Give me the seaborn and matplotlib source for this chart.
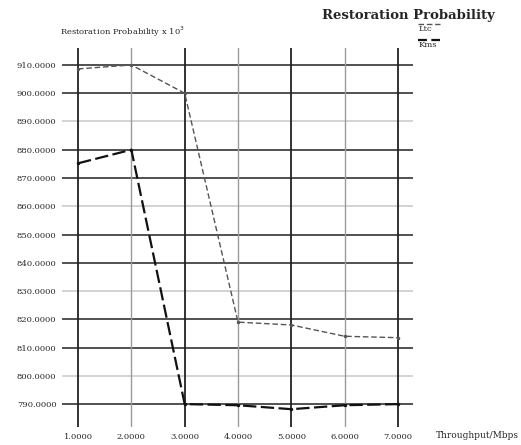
import pandas as pd
import numpy as np
import matplotlib
matplotlib.use("Agg")
import matplotlib.pyplot as plt
import seaborn as sns

# Data
throughput = [1, 2, 3, 4, 5, 6, 7]
ltc = [908.6, 910.0, 900.0, 819.0, 818.0, 814.0, 813.5]
kms = [875.2, 880.0, 790.0, 789.6, 788.2, 789.6, 790.0]
series_names = ["Ltc", "Kms"]
xticks = [1, 2, 3, 4, 5, 6, 7]
yticks = list(range(790, 911, 10))

sns.set_style("white")
plt.rcParams['font.family'] = ['DejaVu Serif', 'DejaVu Sans']

df = pd.DataFrame({
    'x': throughput * 2,
    'y': ltc + kms,
    'series': [series_names[0]] * 7 + [series_names[1]] * 7,
})

fig = plt.figure(figsize=(5.21, 4.45), dpi=100)
ax = fig.add_axes([62 / 521, 1 - 427 / 445, (413 - 62) / 521, (427 - 48) / 445])

# grid, alternating dark / light like the original
for i, yv in enumerate(yticks):
    ax.axhline(yv, color='#222222' if i % 3 != 1 else '#c8c8c8', lw=1.1, zorder=1)
for i, xv in enumerate(xticks):
    ax.axvline(xv, color='#222222' if i % 2 == 0 else '#9a9a9a', lw=1.3 if i % 2 == 0 else 1.0, zorder=1)

sns.lineplot(data=df[df['series'] == 'Ltc'], x='x', y='y', ax=ax, color='#555555',
             lw=1.0, linestyle=(0, (4, 2)), marker='o', markersize=2.5,
             markeredgewidth=0, zorder=3, legend=False)
sns.lineplot(data=df[df['series'] == 'Kms'], x='x', y='y', ax=ax, color='#111111',
             lw=1.6, linestyle=(0, (6, 2)), marker='o', markersize=2.5,
             markeredgewidth=0, zorder=3, legend=False)

ax.set_xlim(0.70, 7.28)
ax.set_ylim(781.9, 916.0)
ax.set_xticks(xticks)
ax.set_xticklabels([f"{v:.4f}" for v in xticks], fontsize=6)
ax.set_yticks(yticks)
ax.set_yticklabels([f"{v:.4f}" for v in yticks], fontsize=6)
ax.tick_params(length=0, pad=4)
for s in ax.spines.values():
    s.set_visible(False)
ax.set_xlabel("")
ax.set_ylabel("")

# texts
fig.text(495 / 521, 1 - 15 / 445, "Restoration Probability", ha='right', va='center',
         fontsize=9.5, fontweight='bold')
fig.text(60 / 521, 1 - 32 / 445, r"Restoration Probability x 10$^{3}$", ha='left',
         va='center', fontsize=6)
fig.text(519 / 521, 1 - 435 / 445, "Throughput/Mbps", ha='right', va='center', fontsize=6.5)

# xgraph-style legend: line above each label
for k, (name, col, lw) in enumerate([("Ltc", '#555555', 1.0), ("Kms", '#111111', 1.6)]):
    ytop = 1 - (24 + 16 * k) / 445
    fig.add_artist(plt.Line2D([418 / 521, 440 / 521], [ytop, ytop], color=col, lw=lw,
                              linestyle=(0, (4, 2))))
    fig.text(419 / 521, ytop - 0.012, name, ha='left', va='center', fontsize=6)

fig.savefig("out.png", dpi=100)
